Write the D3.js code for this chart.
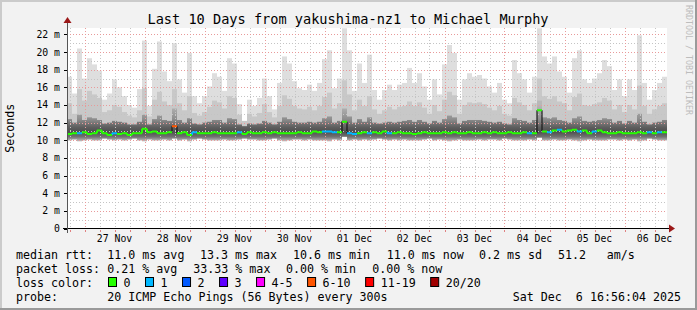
<!DOCTYPE html>
<html>
<head>
<meta charset="utf-8">
<script src="https://cdn.jsdelivr.net/npm/d3@7"></script>
<style>
  html, body { margin: 0; padding: 0; background: #f2f2f2; }
  svg { display: block; }
  text { font-family: "DejaVu Sans Mono", monospace; fill: #000; white-space: pre; }
</style>
</head>
<body>
<div id="chart"></div>
<script>
// Chart data (one value per 2 hour column)
const titleText = 'Last 10 Days from yakushima-nz1 to Michael Murphy';
const yTicks = [0, 2, 4, 6, 8, 10, 12, 14, 16, 18, 20, 22];
const dayLabels = ['27 Nov', '28 Nov', '29 Nov', '30 Nov', '01 Dec', '02 Dec', '03 Dec', '04 Dec', '05 Dec', '06 Dec'];

// smoke extents in ms
const smokeMax = [
  17.2, 15.3, 20.4, 17.0, 19.3, 18.6, 17.9, 14.6, 15.3, 16.9,
  16.0, 15.0, 14.0, 13.7, 15.8, 21.3, 13.9, 18.1, 21.2, 17.8,
  16.7, 21.0, 16.9, 15.4, 19.9, 15.0, 14.2, 15.0, 16.1, 17.6,
  17.2, 15.6, 19.3, 18.7, 14.1, 12.0, 14.6, 13.9, 14.8, 17.0,
  15.0, 13.5, 16.5, 19.5, 18.7, 16.7, 15.9, 15.7, 16.3, 15.6,
  16.5, 19.2, 20.2, 15.9, 17.0, 22.7, 20.2, 15.6, 18.7, 16.5,
  19.7, 15.7, 14.6, 15.7, 16.3, 15.7, 16.3, 16.5, 18.2, 16.5,
  17.6, 16.1, 14.6, 16.9, 15.2, 18.6, 20.8, 19.9, 14.6, 16.9,
  17.6, 17.2, 17.4, 17.0, 16.1, 15.4, 16.5, 14.6, 14.2, 19.1,
  17.6, 16.9, 15.4, 17.2, 22.7, 19.5, 18.7, 19.5, 17.8, 17.2,
  15.4, 19.3, 20.2, 16.9, 16.5, 17.0, 17.6, 19.1, 18.4, 15.7,
  16.9, 15.0, 16.9, 15.7, 21.9, 16.5, 14.6, 15.7, 16.5, 17.2
];
const smokeMid = [
  14.2, 13.0, 15.8, 14.5, 15.6, 15.2, 14.8, 13.2, 13.4, 14.0,
  13.8, 13.2, 12.8, 12.6, 13.4, 15.9, 12.7, 14.6, 15.5, 14.4,
  14.0, 15.8, 14.2, 13.4, 15.0, 13.1, 12.8, 13.2, 13.8, 14.5,
  14.3, 13.6, 15.0, 14.8, 12.9, 12.2, 13.0, 12.7, 13.1, 14.1,
  13.2, 12.6, 13.9, 15.1, 14.7, 13.9, 13.6, 13.5, 13.8, 13.4,
  13.9, 14.9, 15.4, 13.6, 14.2, 16.8, 15.2, 13.4, 14.6, 13.9,
  15.0, 13.5, 13.0, 13.4, 13.8, 13.5, 13.8, 13.9, 14.4, 13.9,
  14.3, 13.7, 13.0, 14.0, 13.3, 14.6, 15.5, 15.1, 13.0, 14.0,
  14.3, 14.2, 14.3, 14.1, 13.7, 13.4, 13.9, 13.0, 12.8, 14.8,
  14.3, 14.0, 13.4, 14.2, 17.0, 15.0, 14.7, 15.0, 14.4, 14.2,
  13.4, 14.9, 15.3, 14.0, 13.9, 14.1, 14.3, 14.8, 14.5, 13.5,
  14.0, 13.2, 14.0, 13.5, 16.2, 13.9, 13.0, 13.5, 13.9, 14.2
];
const smokeUpper = [
  12.4, 12.0, 12.9, 12.3, 12.6, 12.5, 12.3, 11.9, 12.0, 12.2,
  12.1, 12.0, 11.8, 11.8, 12.1, 12.9, 11.8, 12.4, 12.8, 12.3,
  12.2, 13.6, 12.3, 12.0, 12.5, 11.9, 11.8, 12.0, 12.1, 12.3,
  12.3, 12.0, 12.5, 12.4, 11.8, 11.6, 11.9, 11.8, 11.9, 12.2,
  12.0, 11.8, 12.1, 12.6, 12.4, 12.1, 12.0, 12.0, 12.1, 12.0,
  12.1, 12.5, 12.7, 12.0, 12.2, 13.6, 12.7, 12.0, 12.4, 12.1,
  12.6, 12.0, 11.9, 12.0, 12.1, 12.0, 12.1, 12.2, 12.3, 12.1,
  12.3, 12.1, 11.9, 12.2, 12.0, 12.4, 12.8, 12.6, 11.9, 12.2,
  12.3, 12.3, 12.3, 12.2, 12.1, 12.0, 12.1, 11.9, 11.8, 12.5,
  12.3, 12.2, 12.0, 12.3, 14.5, 12.6, 12.5, 12.6, 12.3, 12.2,
  12.0, 12.5, 12.7, 12.2, 12.1, 12.2, 12.3, 12.5, 12.4, 12.0,
  12.2, 11.9, 12.2, 12.0, 13.0, 12.1, 11.8, 12.0, 12.1, 12.3
];
const smokeLow = [
  10.0, 10.1, 9.9, 10.0, 10.1, 10.0, 10.0, 10.2, 10.1, 10.0,
  10.1, 10.0, 10.1, 10.2, 10.0, 9.9, 10.1, 10.0, 10.0, 10.1,
  10.0, 10.2, 10.0, 10.1, 9.9, 10.1, 10.2, 10.1, 10.0, 10.0,
  10.0, 10.1, 10.0, 10.0, 10.1, 10.2, 10.1, 10.1, 10.0, 10.0,
  10.1, 10.2, 10.0, 9.9, 10.0, 10.1, 10.1, 10.0, 10.1, 10.0,
  10.0, 10.0, 9.9, 10.1, 10.0, 10.4, 10.0, 10.1, 10.0, 10.1,
  10.0, 10.1, 10.2, 10.1, 10.0, 10.1, 10.0, 10.1, 10.0, 10.0,
  10.0, 10.1, 10.2, 10.0, 10.1, 10.0, 9.9, 10.0, 10.1, 10.0,
  10.0, 10.0, 10.1, 10.0, 10.1, 10.1, 10.0, 10.2, 10.1, 10.0,
  10.0, 10.0, 10.1, 10.0, 10.3, 10.0, 10.0, 10.1, 10.0, 10.0,
  10.1, 10.0, 9.9, 10.0, 10.1, 10.0, 10.0, 10.0, 10.1, 10.1,
  10.0, 10.1, 10.0, 10.1, 9.9, 10.0, 10.2, 10.1, 10.0, 10.0
];
const medianRtt = [
  10.7, 10.8, 10.8, 10.9, 10.7, 10.8, 11.1, 10.8, 10.6, 10.8,
  10.7, 10.8, 10.6, 10.8, 10.8, 11.3, 10.9, 11.0, 10.8, 10.8,
  10.9, 11.6, 10.8, 10.9, 10.6, 10.9, 10.8, 10.8, 10.8, 10.9,
  10.8, 10.8, 10.8, 10.8, 10.9, 10.7, 10.9, 10.8, 10.8, 10.9,
  10.8, 10.9, 10.8, 10.8, 10.8, 10.8, 10.9, 10.8, 10.8, 11.0,
  10.9, 11.0, 11.0, 10.9, 10.9, 12.1, 10.8, 10.7, 10.8, 10.9,
  10.8, 10.9, 10.8, 11.0, 10.8, 10.8, 10.9, 10.8, 10.8, 10.7,
  10.8, 10.9, 10.8, 10.8, 10.8, 10.9, 10.8, 10.9, 10.8, 10.8,
  10.9, 10.8, 10.8, 10.9, 10.8, 10.9, 10.8, 10.8, 10.9, 10.8,
  10.8, 10.9, 10.8, 10.8, 13.4, 11.0, 10.9, 11.1, 11.2, 11.0,
  11.1, 11.2, 11.0, 11.1, 10.8, 11.0, 11.1, 10.9, 10.8, 10.8,
  10.9, 10.8, 10.8, 10.8, 10.9, 10.8, 10.9, 10.8, 10.9, 10.9
];
// index into lossLabels / lossColors
const lossClass = [
  0, 0, 1, 0, 0, 0, 0, 0, 0, 1,
  0, 0, 0, 0, 0, 0, 0, 0, 0, 0,
  0, 5, 0, 0, 0, 1, 0, 0, 0, 0,
  0, 0, 0, 0, 1, 0, 0, 0, 0, 0,
  0, 0, 0, 0, 0, 0, 0, 0, 0, 0,
  0, 1, 1, 1, 0, 0, 1, 1, 0, 0,
  1, 0, 0, 0, 1, 0, 0, 0, 0, 0,
  0, 0, 0, 0, 0, 0, 0, 0, 0, 0,
  0, 0, 0, 0, 0, 0, 0, 0, 0, 0,
  0, 0, 1, 0, 0, 0, 1, 0, 1, 0,
  0, 0, 1, 0, 0, 1, 0, 0, 0, 0,
  0, 0, 0, 0, 0, 0, 1, 0, 1, 0
];
const lossLabels = ['0', '1', '2', '3', '4-5', '6-10', '11-19', '20/20'];
const lossColors = ['#26ff00', '#00b8ff', '#0059ff', '#5e00ff', '#ff00ff', '#ff5500', '#ff0000', '#a10000'];

const rttLine = ['median rtt:', '11.0 ms avg', '13.3 ms max', '10.6 ms min', '11.0 ms now', '0.2 ms sd', '51.2', 'am/s'];
const lossLine = ['packet loss:', '0.21 % avg', '33.33 % max', '0.00 % min', '0.00 % now'];
const probeLine = ['probe:', '20 ICMP Echo Pings (56 Bytes) every 300s'];
const stampText = 'Sat Dec  6 16:56:04 2025';

const startTime = new Date(Date.UTC(2025, 10, 26, 17, 0));
const endTime = new Date(Date.UTC(2025, 11, 6, 17, 0));

// Layout
const W = 697, H = 310;
const plot = { left: 67, right: 667, top: 28, bottom: 228.5 };

const svg = d3.select('#chart').append('svg')
    .attr('width', W)
    .attr('height', H);

// frame
svg.append('rect').attr('width', W).attr('height', H).attr('fill', '#f2f2f2');
svg.append('path').attr('d', `M1,${H} V1 H${W}`).attr('fill', 'none').attr('stroke', '#cbcbcb').attr('stroke-width', 2);
svg.append('path').attr('d', `M0,${H - 1} H${W - 1} V0`).attr('fill', 'none').attr('stroke', '#9a9a9a').attr('stroke-width', 2);

const x = d3.scaleUtc().domain([startTime, endTime]).range([plot.left, plot.right]);
const y = d3.scaleLinear().domain([0, 200 / 8.8]).range([plot.bottom, plot.top]);

svg.append('rect')
    .attr('x', plot.left).attr('y', plot.top)
    .attr('width', plot.right - plot.left).attr('height', plot.bottom - plot.top)
    .attr('fill', '#ffffff');

svg.append('clipPath').attr('id', 'clip')
  .append('rect')
    .attr('x', plot.left).attr('y', plot.top)
    .attr('width', plot.right - plot.left).attr('height', plot.bottom - plot.top);

// columns: one every 2 hours
const colTimes = d3.utcHour.every(2).range(startTime, endTime).slice(0, medianRtt.length);
const cols = colTimes.map((t, i) => ({
    x0: x(d3.utcHour.offset(t, -1)),
    x1: x(d3.utcHour.offset(t, 1)),
    max: smokeMax[i], mid: smokeMid[i], upper: smokeUpper[i], low: smokeLow[i],
    med: medianRtt[i], loss: lossClass[i]
}));

// smoke gradient for the dense part around the median
const grad = svg.append('defs').append('linearGradient')
    .attr('id', 'core')
    .attr('gradientUnits', 'userSpaceOnUse')
    .attr('x1', 0).attr('x2', 0)
    .attr('y1', y(14)).attr('y2', y(9.8));
[[0, '#b8b8b8'], [0.38, '#8e8e8e'], [0.6, '#5e5e5e'], [0.72, '#4e4e4e'], [0.86, '#727272'], [1, '#d0d0d0']]
    .forEach(s => grad.append('stop').attr('offset', s[0]).attr('stop-color', s[1]));

const smoke = svg.append('g').attr('clip-path', 'url(#clip)');
[['max', '#dedede'], ['mid', '#c8c8c8'], ['upper', 'url(#core)']].forEach(([key, fill]) => {
    smoke.selectAll(null)
        .data(cols)
        .enter().append('rect')
        .attr('x', d => d.x0)
        .attr('width', d => d.x1 - d.x0)
        .attr('y', d => y(d[key]))
        .attr('height', d => y(d.low) - y(d[key]))
        .attr('fill', fill);
});

// grid
const grid = svg.append('g').attr('shape-rendering', 'crispEdges');
const minorY = d3.range(1, 23, 2);
grid.selectAll('.gy').data(minorY).enter().append('line')
    .attr('x1', plot.left).attr('x2', plot.right)
    .attr('y1', d => Math.round(y(d)) + 0.5).attr('y2', d => Math.round(y(d)) + 0.5)
    .attr('stroke', '#c4c4c4').attr('stroke-dasharray', '1,2');
const minorX = d3.utcHour.every(6).range(startTime, endTime).filter(t => t.getUTCHours() !== 0);
grid.selectAll('.gx').data(minorX).enter().append('line')
    .attr('x1', d => Math.round(x(d)) + 0.5).attr('x2', d => Math.round(x(d)) + 0.5)
    .attr('y1', plot.top).attr('y2', plot.bottom)
    .attr('stroke', '#c4c4c4').attr('stroke-dasharray', '1,2');
grid.selectAll('.my').data(yTicks.slice(1)).enter().append('line')
    .attr('x1', plot.left).attr('x2', plot.right)
    .attr('y1', d => Math.round(y(d)) + 0.5).attr('y2', d => Math.round(y(d)) + 0.5)
    .attr('stroke', '#e89a9a').attr('stroke-dasharray', '1,2');
const days = d3.utcDay.range(startTime, endTime);
grid.selectAll('.mx').data(days).enter().append('line')
    .attr('x1', d => Math.round(x(d)) + 0.5).attr('x2', d => Math.round(x(d)) + 0.5)
    .attr('y1', plot.top).attr('y2', plot.bottom)
    .attr('stroke', '#e89a9a').attr('stroke-dasharray', '1,2');

// median line, coloured by packet loss
const med = svg.append('g').attr('clip-path', 'url(#clip)');
cols.forEach((d, i) => {
    if (i > 0) {
        const prev = cols[i - 1];
        const jump = Math.abs(d.med - prev.med);
        med.append('line')
            .attr('x1', d.x0).attr('x2', d.x0)
            .attr('y1', y(prev.med)).attr('y2', y(d.med))
            .attr('stroke', jump > 0.5 ? '#1a1a1a' : lossColors[d.loss])
            .attr('stroke-width', jump > 0.5 ? 1.2 : 2);
    }
});
med.selectAll('.m').data(cols).enter().append('line')
    .attr('x1', d => d.x0).attr('x2', d => d.x1)
    .attr('y1', d => y(d.med)).attr('y2', d => y(d.med))
    .attr('stroke', d => lossColors[d.loss])
    .attr('stroke-width', 2);

// axes
const arrowColor = '#9b1818';
svg.append('line')
    .attr('x1', plot.left - 4).attr('x2', plot.right + 4)
    .attr('y1', plot.bottom).attr('y2', plot.bottom)
    .attr('stroke', '#000').attr('shape-rendering', 'crispEdges');
svg.append('line')
    .attr('x1', plot.left + 0.5).attr('x2', plot.left + 0.5)
    .attr('y1', plot.bottom + 4).attr('y2', plot.top - 6)
    .attr('stroke', '#555').attr('shape-rendering', 'crispEdges');
svg.append('path')
    .attr('d', `M${plot.right + 2},${plot.bottom - 4} L${plot.right + 8},${plot.bottom} L${plot.right + 2},${plot.bottom + 4} Z`)
    .attr('fill', arrowColor);
svg.append('path')
    .attr('d', `M${plot.left - 3.5},${plot.top - 5} L${plot.left + 0.5},${plot.top - 11} L${plot.left + 4.5},${plot.top - 5} Z`)
    .attr('fill', arrowColor);

// axis ticks
svg.selectAll('.yt').data(yTicks).enter().append('line')
    .attr('x1', plot.left - 3).attr('x2', plot.left)
    .attr('y1', d => Math.round(y(d)) + 0.5).attr('y2', d => Math.round(y(d)) + 0.5)
    .attr('stroke', '#000').attr('shape-rendering', 'crispEdges');
svg.selectAll('.xt').data(minorX.concat(days)).enter().append('line')
    .attr('x1', d => Math.round(x(d)) + 0.5).attr('x2', d => Math.round(x(d)) + 0.5)
    .attr('y1', plot.bottom + 1).attr('y2', plot.bottom + 3)
    .attr('stroke', '#e08080').attr('shape-rendering', 'crispEdges');

// y labels
svg.selectAll('.yl').data(yTicks).enter().append('text')
    .attr('x', 60).attr('y', d => y(d) + 3.5)
    .attr('text-anchor', 'end')
    .style('font-size', '9.8px')
    .text(d => d === 0 ? '0' : `${d} m`);

// x labels at noon
svg.selectAll('.xl').data(days).enter().append('text')
    .attr('x', d => x(d3.utcHour.offset(d, 12)))
    .attr('y', 241.5)
    .attr('text-anchor', 'middle')
    .style('font-size', '9.8px')
    .text((d, i) => dayLabels[i]);

// title and side texts
svg.append('text')
    .attr('x', 348).attr('y', 23.5)
    .attr('text-anchor', 'middle')
    .style('font-size', '13.6px')
    .text(titleText);

svg.append('text')
    .attr('transform', `translate(14,${plot.top + (plot.bottom - plot.top) / 2}) rotate(-90)`)
    .attr('text-anchor', 'middle')
    .style('font-size', '11.6px')
    .text('Seconds');

svg.append('text')
    .attr('transform', 'translate(686,5) rotate(90)')
    .style('font-size', '8.3px')
    .style('fill', '#bdbdbd')
    .text('RRDTOOL / TOBI OETIKER');

// legend
const lg = svg.append('g').style('font-size', '11.65px');
const rttCols = [16, 107.3, 200, 293, 386.7, 479, 558, 606.7];
const lossCols = [16, 107.3, 193.3, 286, 372.3];
rttLine.forEach((t, i) => lg.append('text').attr('x', rttCols[i]).attr('y', 258.5).text(t));
lossLine.forEach((t, i) => lg.append('text').attr('x', lossCols[i]).attr('y', 272.5).text(t));
lg.append('text').attr('x', 16).attr('y', 286.5).text('loss color:');
let lx = 108.5;
lossLabels.forEach((lab, i) => {
    lg.append('rect')
        .attr('x', lx).attr('y', 277.5)
        .attr('width', 8).attr('height', 9)
        .attr('fill', lossColors[i])
        .attr('stroke', '#000').attr('stroke-width', 1);
    const t = lg.append('text').attr('x', lx + 15).attr('y', 286.5).text(lab);
    lx += 15 + t.node().getComputedTextLength() + 15;
});
lg.append('text').attr('x', 16).attr('y', 300.5).text(probeLine[0]);
lg.append('text').attr('x', 107.3).attr('y', 300.5).text(probeLine[1]);
lg.append('text').attr('x', 681).attr('y', 300.5).attr('text-anchor', 'end').text(stampText);
</script>
</body>
</html>
